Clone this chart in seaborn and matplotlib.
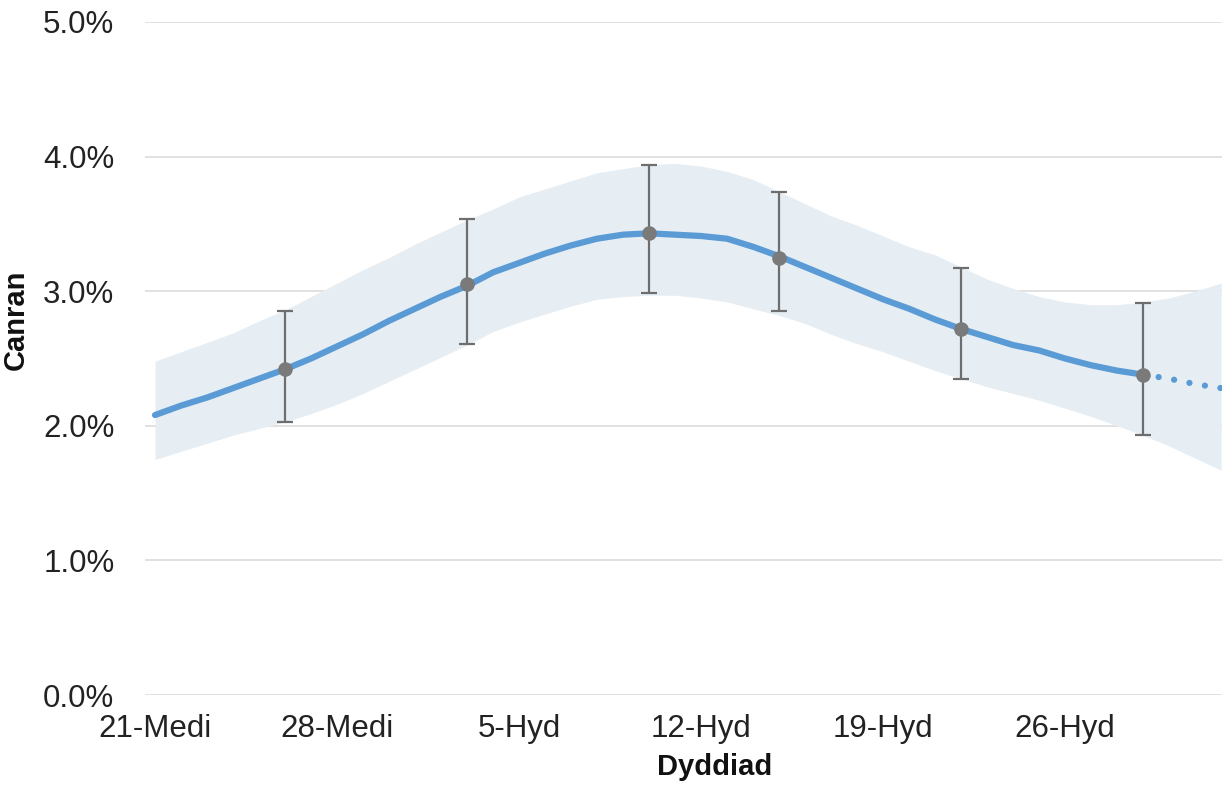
import numpy as np
import pandas as pd
import seaborn as sns
import matplotlib.pyplot as plt

# Daily values, day 0 = 21-Medi
mean_vals = [2.08, 2.15, 2.21, 2.28, 2.35, 2.42, 2.50, 2.59, 2.68, 2.78,
             2.87, 2.96, 3.04, 3.14, 3.21, 3.28, 3.34, 3.39, 3.42, 3.43,
             3.42, 3.41, 3.39, 3.33, 3.26, 3.18, 3.10, 3.02, 2.94, 2.87,
             2.79, 2.72, 2.66, 2.60, 2.56, 2.50, 2.45, 2.41, 2.38, 2.35,
             2.31, 2.28]
upper_vals = [2.48, 2.55, 2.62, 2.69, 2.78, 2.86, 2.96, 3.06, 3.16, 3.25,
              3.35, 3.44, 3.53, 3.61, 3.70, 3.76, 3.82, 3.88, 3.91, 3.94,
              3.95, 3.93, 3.89, 3.83, 3.74, 3.65, 3.56, 3.49, 3.41, 3.33,
              3.27, 3.18, 3.09, 3.02, 2.96, 2.92, 2.90, 2.90, 2.92, 2.95,
              3.00, 3.06]
lower_vals = [1.75, 1.81, 1.87, 1.93, 1.98, 2.03, 2.09, 2.16, 2.24, 2.33,
              2.42, 2.51, 2.60, 2.70, 2.77, 2.83, 2.89, 2.94, 2.96, 2.97,
              2.97, 2.95, 2.92, 2.87, 2.82, 2.76, 2.68, 2.61, 2.55, 2.48,
              2.41, 2.35, 2.29, 2.24, 2.19, 2.13, 2.07, 2.00, 1.93, 1.85,
              1.76, 1.67]
last_solid_day = 38

# Survey points with error bars
point_days = [5, 12, 19, 24, 31, 38]
point_vals = [2.42, 3.05, 3.43, 3.25, 2.72, 2.38]
point_low = [2.03, 2.61, 2.99, 2.85, 2.35, 1.93]
point_high = [2.85, 3.54, 3.94, 3.74, 3.17, 2.91]

tick_days = [0, 7, 14, 21, 28, 35]
tick_labels = ['21-Medi', '28-Medi', '5-Hyd', '12-Hyd', '19-Hyd', '26-Hyd']
y_ticks = [0, 1, 2, 3, 4, 5]

df = pd.DataFrame({'day': np.arange(len(mean_vals)), 'mean': mean_vals,
                   'upper': upper_vals, 'lower': lower_vals})
solid = df[df['day'] <= last_solid_day]
dotted = df[df['day'] >= last_solid_day]

sns.set_theme(style='white')
plt.rcParams['font.family'] = ['Liberation Sans', 'DejaVu Sans']

fig = plt.figure(figsize=(12.32, 7.85), dpi=100)
ax = fig.add_axes([0.1177, 0.1146, 0.8743, 0.8574])

# Confidence band
ax.fill_between(df['day'], df['lower'], df['upper'], color='#E6EEF4', lw=0, zorder=1)

# Grid lines
for y in y_ticks:
    ax.axhline(y, color='#DCDCDC', lw=1.2, zorder=0.5)

# Main line
sns.lineplot(data=solid, x='day', y='mean', ax=ax, color='#5B9BD5', lw=4.5,
             solid_capstyle='round', zorder=3)
sns.lineplot(data=dotted, x='day', y='mean', ax=ax, color='#5B9BD5', lw=4.5,
             dashes=False, zorder=3)
ax.lines[-1].set_linestyle((0, (0.01, 2.5)))
ax.lines[-1].set_dash_capstyle('round')

# Error bars and markers
pv = np.array(point_vals)
yerr = [pv - np.array(point_low), np.array(point_high) - pv]
ax.errorbar(point_days, point_vals, yerr=yerr, fmt='o', color='#7A7A7A',
            ecolor='#6E6E6E', elinewidth=1.6, capsize=6, capthick=1.6,
            markersize=9.5, zorder=4)

ax.set_xlim(-0.385, 41.04)
ax.set_ylim(0, 5)
ax.set_yticks(y_ticks)
ax.set_yticklabels([f'{v:.1f}%' for v in y_ticks], fontsize=22.5)
ax.set_xticks(tick_days)
ax.set_xticklabels(tick_labels, fontsize=22.5)
ax.tick_params(axis='y', length=0, pad=22, colors='#222222')
ax.tick_params(axis='x', length=0, pad=14, colors='#222222')

for s in ax.spines.values():
    s.set_visible(False)

ax.set_xlabel('Dyddiad', fontsize=21, fontweight='bold', color='#111111')
ax.set_ylabel('Canran', fontsize=21, fontweight='bold', color='#111111')
ax.xaxis.set_label_coords(0.529, -0.086)
ax.yaxis.set_label_coords(-0.107, 0.557)

fig.savefig('out.png', dpi=100)
